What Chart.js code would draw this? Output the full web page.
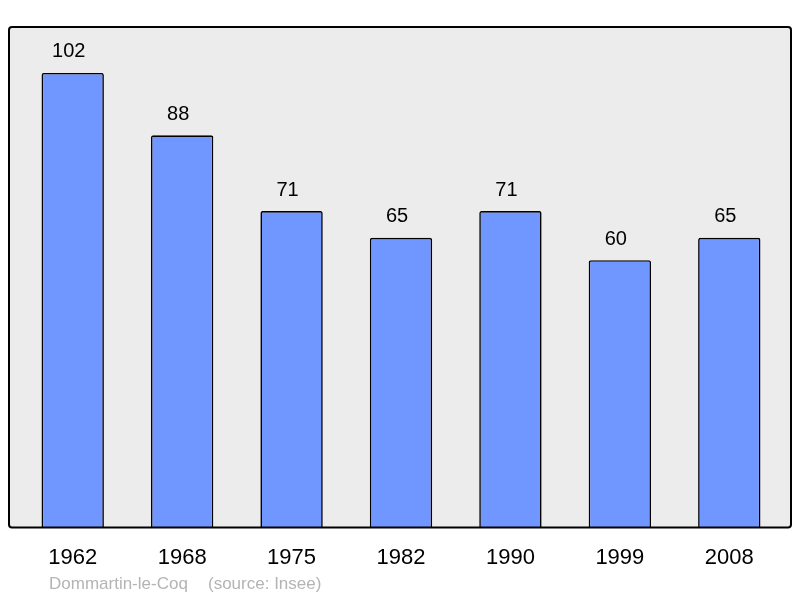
<!DOCTYPE html>
<html>
<head>
<meta charset="utf-8">
<script src="https://cdn.jsdelivr.net/npm/chart.js@4"></script>
<style>
  html, body { margin: 0; padding: 0; background: #fff; }
  canvas { display: block; }
</style>
</head>
<body>
<canvas id="popChart" width="800" height="598"></canvas>
<script>
// données
const years = ['1962', '1968', '1975', '1982', '1990', '1999', '2008'];
const population = [102, 88, 71, 65, 71, 60, 65];
const townName = 'Dommartin-le-Coq';
const sourceText = '(source: Insee)';

const fontFamily = '"Liberation Sans", Arial, sans-serif';

// cadre gris derrière les barres
const frameBox = {
    id: 'frameBox',
    beforeDatasetsDraw(chart) {
        const { ctx, chartArea: a } = chart;
        const x0 = a.left - 9, x1 = a.right + 7, y0 = a.top, y1 = a.bottom;
        ctx.save();
        ctx.beginPath();
        ctx.roundRect(x0, y0, x1 - x0, y1 - y0, 3);
        ctx.fillStyle = '#ececec';
        ctx.fill();
        ctx.restore();
    },
    afterDatasetsDraw(chart) {
        const { ctx, chartArea: a } = chart;
        const x0 = a.left - 9, x1 = a.right + 7, y0 = a.top, y1 = a.bottom;
        ctx.save();
        ctx.beginPath();
        ctx.roundRect(x0, y0, x1 - x0, y1 - y0, 3);
        ctx.lineWidth = 2;
        ctx.strokeStyle = '#000';
        ctx.stroke();

        // valeurs au-dessus des barres (un peu décalées à gauche comme l'original)
        const meta = chart.getDatasetMeta(0);
        ctx.font = '20px ' + fontFamily;
        ctx.fillStyle = '#000';
        ctx.textAlign = 'center';
        ctx.textBaseline = 'middle';
        meta.data.forEach((bar, i) => {
            ctx.fillText(String(population[i]), bar.x - 4, bar.y - 21);
        });

        // légende du bas
        ctx.font = '17px ' + fontFamily;
        ctx.fillStyle = '#b4b4b4';
        ctx.textAlign = 'left';
        ctx.fillText(townName, 49, 584);
        ctx.fillText(sourceText, 208, 584);
        ctx.restore();
    }
};

new Chart(document.getElementById('popChart'), {
    type: 'bar',
    data: {
        labels: years,
        datasets: [{
            data: population,
            backgroundColor: '#7096ff',
            borderColor: '#000',
            borderWidth: 1.6,
            borderRadius: 2,
            barPercentage: 0.57,
            categoryPercentage: 1
        }]
    },
    options: {
        responsive: false,
        animation: false,
        layout: { padding: { left: 18, right: 16, top: 27, bottom: 10 } },
        plugins: { legend: { display: false }, tooltip: { enabled: false } },
        scales: {
            x: {
                grid: { display: false, drawTicks: false },
                border: { display: false },
                ticks: { color: '#000', font: { family: fontFamily, size: 22 }, padding: 17 }
            },
            y: {
                display: false,
                min: 0,
                max: 112.3
            }
        }
    },
    plugins: [frameBox]
});
</script>
</body>
</html>
